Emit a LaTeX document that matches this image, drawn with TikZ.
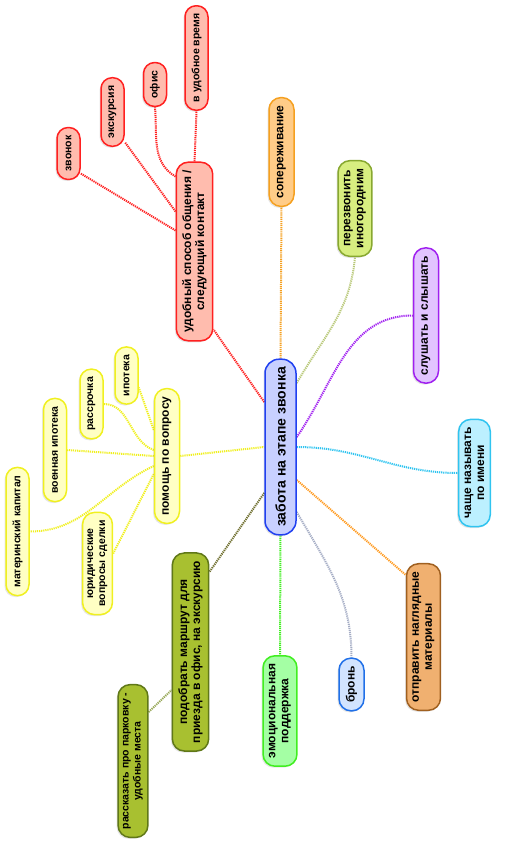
\documentclass[tikz,border=0pt]{standalone}
\usepackage{fontspec}
\setmainfont{Liberation Sans}
\usetikzlibrary{shadows,backgrounds}

\definecolor{ctrfill}{HTML}{C8D0FF}
\definecolor{ctrline}{HTML}{2040F0}
\definecolor{redfill}{HTML}{FFBCAE}
\definecolor{redline}{HTML}{FF2020}
\definecolor{sopfill}{HTML}{FFCC88}
\definecolor{sopline}{HTML}{F5A020}
\definecolor{perfill}{HTML}{D8EE80}
\definecolor{perline}{HTML}{88A830}
\definecolor{perlink}{HTML}{B8C878}
\definecolor{slfill}{HTML}{E2C4FF}
\definecolor{slline}{HTML}{A020F0}
\definecolor{chfill}{HTML}{BCF0FF}
\definecolor{chline}{HTML}{30C4F0}
\definecolor{otfill}{HTML}{F0B070}
\definecolor{otline}{HTML}{A06020}
\definecolor{otlink}{HTML}{FF9A20}
\definecolor{brfill}{HTML}{D2E4FF}
\definecolor{brline}{HTML}{2070E8}
\definecolor{brlink}{HTML}{A4ACC4}
\definecolor{emofill}{HTML}{A4FFA4}
\definecolor{emoline}{HTML}{40EE20}
\definecolor{podfill}{HTML}{A8C030}
\definecolor{podline}{HTML}{607818}
\definecolor{podlink}{HTML}{707030}
\definecolor{parklink}{HTML}{98A858}
\definecolor{yelfill}{HTML}{FFFFC4}
\definecolor{yelline}{HTML}{F0F020}

\begin{document}
\begin{tikzpicture}[x=1pt, y=-1pt,
    box/.style={draw, rectangle, rotate=90, line width=1.5pt, align=center,
        inner xsep=8pt, inner ysep=6pt, rounded corners=12pt,
        font=\bfseries\fontsize{12}{13}\selectfont,
        drop shadow={opacity=0.2, shadow xshift=-1.5pt, shadow yshift=-1.5pt}},
    pill/.style={box, minimum height=25pt, inner ysep=3pt},
    leaf/.style={box, font=\bfseries\fontsize{10.5}{12}\selectfont, minimum height=23pt,
        inner ysep=3pt, rounded corners=11pt},
    leaftwo/.style={box, font=\bfseries\fontsize{10.5}{12}\selectfont, inner ysep=5pt},
    link/.style={line width=2pt, dash pattern=on 1.2pt off 0.9pt}]

    \useasboundingbox (0,0) rectangle (505,847);

    % Center
    \node[box, fill=ctrfill, draw=ctrline, minimum height=31pt, rounded corners=14pt,
        font=\bfseries\fontsize{14}{16}\selectfont] (ctr) at (280.5,447) {забота на этапе звонка};

    % Contact branch
    \node[box, fill=redfill, draw=redline] (red) at (194.5,251.5) {удобный способ общения /\\следующий контакт};
    \node[leaf, fill=redfill, draw=redline] (zv) at (68.5,153.5) {звонок};
    \node[leaf, fill=redfill, draw=redline] (ex) at (112.5,112) {экскурсия};
    \node[leaf, fill=redfill, draw=redline] (of) at (155,84.5) {офис};
    \node[leaf, fill=redfill, draw=redline] (vu) at (196.5,58) {в удобное время};

    % Right side
    \node[pill, fill=sopfill, draw=sopline] (sop) at (281.5,152) {сопереживание};
    \node[box, fill=perfill, draw=perline] (per) at (355,208.5) {перезвонить\\иногородним};
    \node[pill, fill=slfill, draw=slline] (sl) at (426,315.5) {слушать и слышать};
    \node[box, fill=chfill, draw=chline] (ch) at (474.5,473) {чаще называть\\по имени};
    \node[box, fill=otfill, draw=otline] (ot) at (423.5,637) {отправить наглядные\\материалы};
    \node[pill, fill=brfill, draw=brline] (br) at (351.5,684.5) {бронь};
    \node[box, fill=emofill, draw=emoline] (emo) at (280,711) {эмоциональная\\поддержка};

    % Route branch
    \node[box, fill=podfill, draw=podline] (pod) at (190.5,652) {подобрать маршрут для\\приезда в офис, на экскурсию};
    \node[leaftwo, fill=podfill, draw=podline] (park) at (133,761) {рассказать про парковку -\\удобные места};

    % Help branch
    \node[pill, fill=yelfill, draw=yelline] (pom) at (167,456) {помощь по вопросу};
    \node[leaf, fill=yelfill, draw=yelline] (ip) at (126.5,375.5) {ипотека};
    \node[leaf, fill=yelfill, draw=yelline] (ra) at (91.5,404) {рассрочка};
    \node[leaf, fill=yelfill, draw=yelline] (vo) at (55,450) {военная ипотека};
    \node[leaf, fill=yelfill, draw=yelline] (mat) at (17.5,531.5) {материнский капитал};
    \node[leaftwo, fill=yelfill, draw=yelline] (ju) at (97.5,563.5) {юридические\\вопросы сделки};

    % Links
    \begin{scope}[on background layer]
        \draw[link, redline] ([yshift=45pt]ctr.north) -- ([yshift=-78pt]red.south);
        \draw[link, sopline] (ctr.east) -- (sop.west);
        \draw[link, perlink] ([yshift=64pt]ctr.south) to[out=60,in=-95] (per.west);
        \draw[link, slline] ([yshift=10pt]ctr.south) to[out=55,in=180] (sl.north);
        \draw[link, chline] (ctr.south) to[out=0,in=180] (ch.north);
        \draw[link, otlink] ([yshift=-33pt]ctr.south) -- ([yshift=62pt]ot.north);
        \draw[link, brlink] ([yshift=-65pt]ctr.south) to[out=-60,in=90] (br.east);
        \draw[link, emoline] (ctr.west) -- (emo.east);
        \draw[link, podlink] ([yshift=-46pt]ctr.north) -- ([yshift=80pt]pod.south);
        \draw[link, yelline] (pom.south) -- (ctr.north);

        \draw[link, redline] ([yshift=21pt]red.north) -- ([yshift=-20pt]zv.south);
        \draw[link, redline] ([yshift=40pt]red.north) -- ([yshift=-30pt]ex.south);
        \draw[link, redline] ([yshift=75pt]red.north) to[out=150,in=-85] (of.west);
        \draw[link, redline] (red.east) -- (vu.west);

        \draw[link, parklink] ([yshift=49pt]park.south) -- ([yshift=-38pt]pod.north);

        \draw[link, yelline] ([yshift=26pt]pom.north) -- ([yshift=-12pt]ip.south);
        \draw[link, yelline] ([yshift=6pt]pom.north) to[out=160,in=0] (ra.south);
        \draw[link, yelline] (pom.north) -- (vo.south);
        \draw[link, yelline] ([yshift=-10pt]pom.north) to[out=205,in=0] (mat.south);
        \draw[link, yelline] ([yshift=-18pt]pom.north) -- ([yshift=10pt]ju.south);
    \end{scope}
\end{tikzpicture}
\end{document}
